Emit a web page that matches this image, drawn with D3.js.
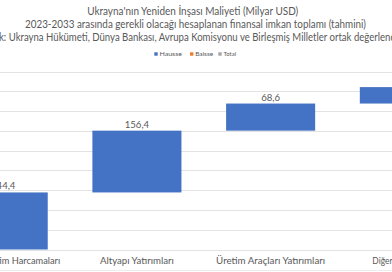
<!DOCTYPE html>
<html><head><meta charset="utf-8">
<script src="https://cdn.jsdelivr.net/npm/d3@7"></script>
<style>html,body{margin:0;padding:0;background:#fff;overflow:hidden}</style>
</head><body>
<svg id="c" width="392" height="272"></svg>
<script>
const categories = ["Sağlık ve Eğitim Harcamaları", "Altyapı Yatırımları", "Üretim Araçları Yatırımları", "Diğer Harcamalar"];
const values = [144.4, 156.4, 68.6, 41.6];
const valueLabels = ["144,4", "156,4", "68,6", "41,6"];
const yTicks = [0, 50, 100, 150, 200, 250, 300, 350, 400, 450];
const titleLines = [
  "Ukrayna'nın Yeniden İnşası Maliyeti (Milyar USD)",
  "2023-2033 arasında gerekli olacağı hesaplanan finansal imkan toplamı (tahmini)",
  "Kaynak: Ukrayna Hükümeti, Dünya Bankası, Avrupa Komisyonu ve Birleşmiş Milletler ortak değerlendirmesi"
];
const legendItems = ["Hausse", "Baisse", "Total"];
const legendColors = ["#4472C4", "#ED7D31", "#A5A5A5"];

const svg = d3.select("#c");
const font = "Lato, 'Open Sans', sans-serif";
const textCol = "#595959";

// running totals for waterfall
let run = 0;
const rows = categories.map((c, i) => { const s = run; run += values[i]; return {cat: c, start: s, end: run, label: valueLabels[i]}; });

const x = d3.scaleBand().domain(categories).range([-63.65, 471.2]).paddingInner(0.334).paddingOuter(0.167);
const y = d3.scaleLinear().domain([0, 450]).range([249.5, 71.7]);

// gridlines
svg.append("g").selectAll("line").data(yTicks).join("line")
  .attr("x1", -63).attr("x2", 471)
  .attr("y1", d => Math.round(y(d)) + 0.5).attr("y2", d => Math.round(y(d)) + 0.5)
  .attr("stroke", "#e3e3e3").attr("stroke-width", 1);

// bottom border line
svg.append("line").attr("x1", 0).attr("x2", 392).attr("y1", 270.5).attr("y2", 270.5)
  .attr("stroke", "#ececec");

// bars
svg.append("g").selectAll("rect").data(rows).join("rect")
  .attr("x", d => x(d.cat)).attr("width", x.bandwidth())
  .attr("y", d => y(d.end)).attr("height", d => y(d.start) - y(d.end))
  .attr("fill", "#4472C4");

function fit(sel, w) { sel.attr("textLength", w).attr("lengthAdjust", "spacingAndGlyphs"); }

// value labels
svg.append("g").selectAll("text").data(rows).join("text")
  .attr("x", d => x(d.cat) + x.bandwidth() / 2).attr("y", d => y(d.end) - 3)
  .attr("text-anchor", "middle").attr("font-family", font).attr("font-size", 9.6)
  .attr("fill", textCol).text(d => d.label);

// category labels
const catWidths = [114, 74, 109, 64];
svg.append("g").selectAll("text").data(categories).join("text")
  .attr("x", d => x(d) + x.bandwidth() / 2).attr("y", 264)
  .attr("text-anchor", "middle").attr("font-family", font).attr("font-size", 9)
  .attr("fill", textCol).text(d => d)
  .each(function(d, i) { fit(d3.select(this), catWidths[i]); });

// title
const tW = [211, 341, 448];
const tX = [192.7, 195.5, 197];
const tY = [14.5, 27.5, 40.5];
titleLines.forEach((t, i) => {
  svg.append("text").attr("x", tX[i]).attr("y", tY[i]).attr("text-anchor", "middle")
    .attr("font-family", font).attr("font-size", 10.6).attr("fill", textCol).text(t)
    .call(s => fit(s, tW[i]));
});

// legend
const lgX = [154.3, 190, 218.3];
const lgTW = [22.4, 18, 12.6];
legendItems.forEach((t, i) => {
  svg.append("rect").attr("x", lgX[i]).attr("y", 52.3).attr("width", 3.4).attr("height", 3.4).attr("fill", legendColors[i]);
  svg.append("text").attr("x", lgX[i] + 5.2).attr("y", 56.3).attr("font-family", font).attr("font-size", 5.8)
    .attr("fill", textCol).text(t).call(s => fit(s, lgTW[i]));
});
</script>
</body></html>
